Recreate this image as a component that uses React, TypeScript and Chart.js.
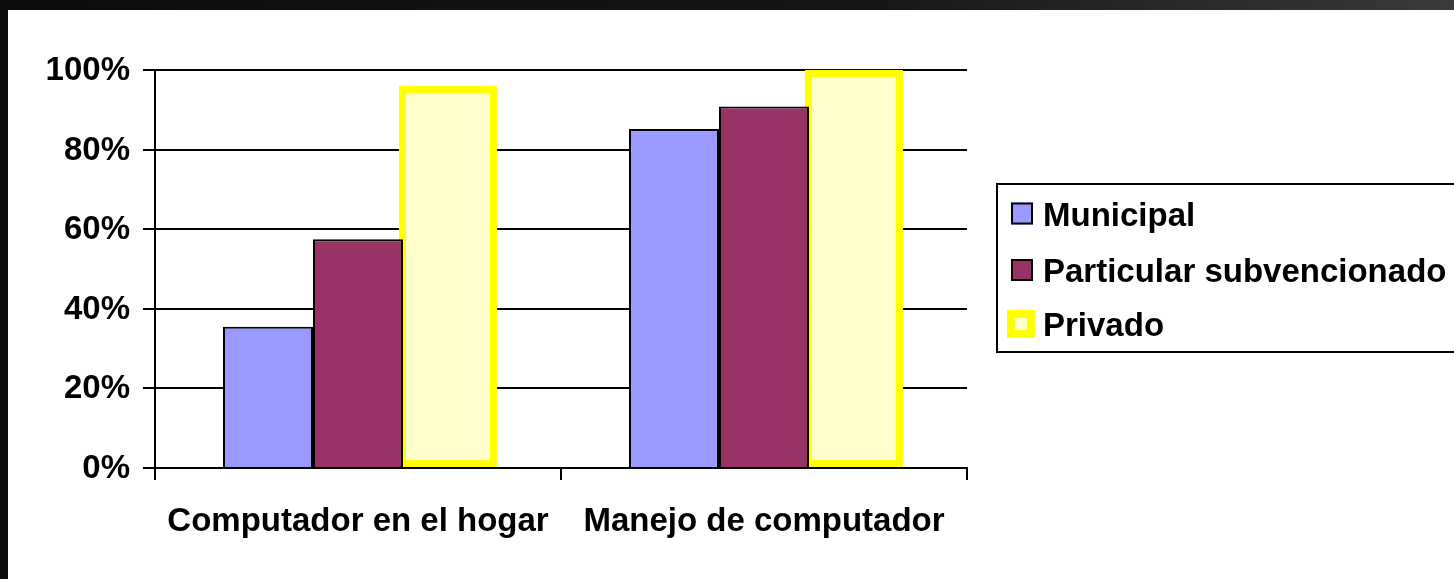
import React, { useEffect, useRef } from "react";
import { Chart, registerables } from "chart.js";

Chart.register(...registerables);

const categories = ["Computador en el hogar", "Manejo de computador"];
const seriesNames = ["Municipal", "Particular subvencionado", "Privado"];
const municipal = [35.5, 85.2];
const particular = [57.5, 90.8];
const privado = [96, 100];
const yTicks = [0, 20, 40, 60, 80, 100];
const yTickLabels = ["0%", "20%", "40%", "60%", "80%", "100%"];

const FONT = "'Liberation Sans', Arial, sans-serif";
const FONT_SIZE = 33;

const boxLegend = {
  id: "boxLegend",
  afterDraw(chart: any) {
    const ctx = chart.ctx as CanvasRenderingContext2D;
    ctx.save();
    ctx.strokeStyle = "#000";
    ctx.lineWidth = 2;
    ctx.strokeRect(989, 174, 480, 168);
    const rows = [203.5, 260, 314];
    ctx.font = `bold ${FONT_SIZE}px ${FONT}`;
    ctx.textBaseline = "middle";
    ctx.textAlign = "left";
    chart.data.datasets.forEach((ds: any, i: number) => {
      const cy = rows[i];
      if (i < 2) {
        ctx.fillStyle = ds.backgroundColor;
        ctx.fillRect(1003, cy - 11, 22, 22);
        ctx.strokeStyle = "#000";
        ctx.lineWidth = 2;
        ctx.strokeRect(1004, cy - 10, 20, 20);
      } else {
        ctx.fillStyle = ds.borderColor;
        ctx.fillRect(999, cy - 14, 28, 28);
        ctx.fillStyle = ds.backgroundColor;
        ctx.fillRect(1007, cy - 6, 12, 12);
      }
      ctx.fillStyle = "#000";
      ctx.fillText(ds.label, 1035, cy + 3);
    });
    ctx.restore();
  },
};

export default function App() {
  const ref = useRef<HTMLCanvasElement | null>(null);

  useEffect(() => {
    if (!ref.current) return;
    const font = { family: FONT, size: FONT_SIZE, weight: "bold" as const };
    const chart = new Chart(ref.current, {
      type: "bar",
      data: {
        labels: categories,
        datasets: [
          {
            label: seriesNames[0],
            data: municipal,
            backgroundColor: "#9999FF",
            borderColor: "#000000",
            borderWidth: 2,
            borderSkipped: "start",
          },
          {
            label: seriesNames[1],
            data: particular,
            backgroundColor: "#993366",
            borderColor: "#000000",
            borderWidth: 2,
            borderSkipped: "start",
          },
          {
            label: seriesNames[2],
            data: privado,
            backgroundColor: "#FFFFCC",
            borderColor: "#FFFF00",
            borderWidth: 7,
            borderSkipped: false,
            barPercentage: 1.09,
          },
        ],
      },
      options: {
        responsive: false,
        animation: false,
        devicePixelRatio: 1,
        layout: { padding: { top: 60, right: 487, left: 0, bottom: 0 } },
        datasets: {
          bar: { categoryPercentage: 0.665, barPercentage: 1 },
        },
        plugins: {
          legend: { display: false },
          tooltip: { enabled: false },
        },
        scales: {
          x: {
            offset: true,
            grid: {
              display: true,
              offset: true,
              drawOnChartArea: false,
              drawTicks: true,
              tickLength: 12,
              color: "#000",
              lineWidth: 2,
            },
            border: { display: true, color: "#000", width: 2 },
            ticks: {
              font,
              color: "#000",
              padding: 22,
              maxRotation: 0,
              autoSkip: false,
            },
            afterFit: (s: any) => {
              s.height = 111;
            },
          },
          y: {
            min: 0,
            max: 100,
            afterBuildTicks: (s: any) => {
              s.ticks = yTicks.map((v) => ({ value: v }));
            },
            ticks: {
              font,
              color: "#000",
              padding: 13,
              labelOffset: 1,
              callback: (v: any) => {
                const i = yTicks.indexOf(Number(v));
                return i >= 0 ? yTickLabels[i] : "";
              },
            },
            grid: {
              color: "#000",
              lineWidth: 2,
              tickLength: 12,
              drawTicks: true,
            },
            border: { display: true, color: "#000", width: 2 },
            afterFit: (s: any) => {
              s.width = 147;
            },
          },
        },
      },
      plugins: [boxLegend],
    });
    return () => chart.destroy();
  }, []);

  return (
    <div
      style={{
        position: "fixed",
        inset: 0,
        background: "linear-gradient(90deg, #0c0c0c 0%, #161616 60%, #3a3a3a 100%)",
      }}
    >
      <div
        style={{
          position: "absolute",
          left: 8,
          top: 10,
          width: 1446,
          height: 569,
          background: "#ffffff",
        }}
      >
        <canvas ref={ref} width={1446} height={569} style={{ display: "block" }} />
      </div>
    </div>
  );
}
